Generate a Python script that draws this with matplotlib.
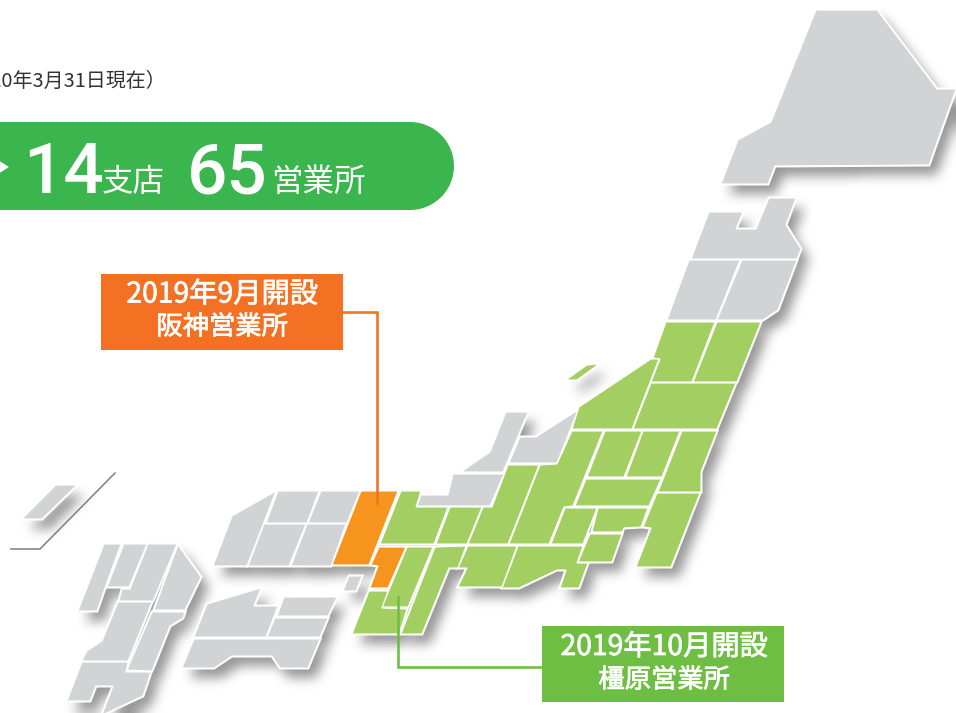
import numpy as np
import matplotlib
matplotlib.use("Agg")
import matplotlib.pyplot as plt
from matplotlib.patches import Polygon, Rectangle, Circle
from matplotlib.path import Path
import matplotlib.patheffects as pe

CJK = 'Noto Sans CJK JP'
NUM = 'Roboto'

# Map regions (pixel space of the reference)
gray_regions = [
    [(816,10),(877,10),(937,89),(956,89),(929,165),(775,166),(768,184),(721,184),(738,140),(771,122)],
    [(709,212),(743,212),(736,229),(756,229),(769,198),(796,198),(786,225),(801,249),(797,259),(691,259)],
    [(689,260),(740,260),(716,320),(667,320)],
    [(742,260),(797,260),(778,310),(763,320),(717,320)],
    [(506,412),(528,412),(503,472),(461,472),(490,452)],
    [(520,437),(536,437),(578,410),(557,463),(509,463)],
    [(453,474),(504,474),(490,506),(417,506),(421,495),(448,495)],
    [(276,491),(232,516),(213,566),(247,566)],
    [(278,491),(319,491),(307,523),(266,523)],
    [(321,491),(360,491),(347,523),(308,523)],
    [(264,524),(306,524),(289,566),(248,566)],
    [(307,524),(346,524),(331,566),(291,566)],
    [(349,576),(362,576),(356,591),(343,591)],
    [(207,604),(261,588),(254,606),(278,606),(266,637),(194,637)],
    [(284,597),(337,597),(328,616),(277,616)],
    [(275,618),(328,618),(320,637),(267,637)],
    [(194,639),(320,639),(308,668),(280,668),(272,656),(232,656),(214,668),(182,668)],
    [(56,485),(77,485),(42,519),(22,519)],
    [(104,544),(121,544),(105,588),(97,611),(78,611)],
    [(124,544),(147,544),(129,587),(107,587)],
    [(148,544),(177,544),(153,601),(119,601),(122,589),(130,589)],
    [(178,545),(201,577),(185,610),(154,610)],
    [(118,602),(152,602),(128,661),(82,661),(87,651),(102,641)],
    [(152,612),(185,612),(183,618),(170,626),(152,671),(127,670)],
    [(82,662),(128,662),(126,672),(151,672),(143,696),(102,715),(113,686),(96,686),(90,701),(67,701)],
]
green_regions = [
    [(666,322),(715,322),(692,382),(651,382),(660,359),(653,358)],
    [(717,322),(761,322),(737,382),(693,382)],
    [(651,359),(659,359),(632,429),(572,429),(579,407)],
    [(651,383),(736,383),(717,429),(633,429)],
    [(587,365),(599,364),(577,380),(566,380)],
    [(508,465),(539,465),(508,544),(468,544),(483,507),(492,507)],
    [(540,465),(557,464),(572,431),(603,431),(573,506),(564,507),(549,544),(509,544)],
    [(605,431),(642,431),(624,477),(587,477)],
    [(643,431),(680,431),(662,477),(626,477)],
    [(682,431),(717,431),(701,472),(701,492),(658,492)],
    [(586,479),(661,479),(649,506),(575,506)],
    [(657,493),(700,493),(671,567),(636,567),(651,528),(643,527)],
    [(598,508),(648,508),(641,527),(624,528),(622,532),(592,532)],
    [(565,508),(597,508),(583,544),(551,544)],
    [(590,534),(622,534),(612,562),(578,562)],
    [(518,546),(583,546),(577,563),(588,563),(579,588),(560,588),(566,570),(557,570),(519,588),(502,588)],
    [(468,546),(517,546),(502,587),(458,587),(467,568),(458,568)],
    [(401,491),(421,491),(416,507),(448,507),(434,544),(380,544)],
    [(450,507),(482,507),(467,544),(436,544)],
    [(407,547),(433,547),(408,607),(382,607)],
    [(435,547),(466,546),(458,568),(449,568),(422,634),(401,634)],
    [(369,591),(388,591),(382,608),(407,609),(399,634),(352,634)],
]
orange_regions = [
    [(361,491),(398,491),(369,565),(332,565)],
    [(379,547),(406,547),(388,588),(370,588),(378,566),(371,565)],
]
okinawa_rule = [(115,473),(40,549),(11,549)]
hanshin_leader = [(343,312),(377,312),(377,503)]
kashihara_leader = [(398,597),(398,667),(542,667)]

as_of_text = "（2020年3月31日現在）"
branch_count, branch_label = "14", "支店"
office_count, office_label = "65", "営業所"
orange_lines = ["2019年9月開設", "阪神営業所"]
green_lines = ["2019年10月開設", "橿原営業所"]

GRAY, GREEN, ORANGE = '#D1D3D4', '#A3CF62', '#F7941E'
PILL, TAG_ORANGE, TAG_GREEN = '#3BB54E', '#F47023', '#6FBE44'
W, H = 956, 713

fig = plt.figure(figsize=(9.56, 7.13), dpi=100)
ax = fig.add_axes([0, 0, 1, 1])

def px(v):
    return v * 0.72

def blur(a, radius):
    k = 2 * radius + 1
    for axis in (0, 1):
        c = np.cumsum(np.pad(a, [(radius + 1, radius) if i == axis else (0, 0) for i in (0, 1)], mode='edge'), axis=axis)
        a = (np.take(c, range(k, c.shape[axis]), axis=axis) - np.take(c, range(0, c.shape[axis] - k), axis=axis)) / k
    return a

# soft drop shadow of the whole map, falling to the lower right
all_regions = gray_regions + green_regions + orange_regions
gx, gy = np.meshgrid(np.arange(W) + 0.5, np.arange(H) + 0.5)
points = np.column_stack([gx.ravel(), gy.ravel()])
mask = np.zeros(gx.size, bool)
for r in all_regions:
    shifted = [(x + 8, y + 10) for x, y in r]
    mask |= Path(shifted + [shifted[0]]).contains_points(points)
mask = mask.reshape(H, W).astype(float)
for _ in range(3):
    mask = blur(mask, 5)
rgba = np.zeros((H, W, 4))
rgba[..., :3] = 0.30
rgba[..., 3] = np.clip(mask * 0.58, 0, 1)
ax.imshow(rgba, extent=(0, W, H, 0), aspect='auto', zorder=1, interpolation='bilinear')
ax.set_xlim(0, W); ax.set_ylim(H, 0); ax.axis('off')

for r in all_regions:
    ax.add_patch(Polygon(r, closed=True, facecolor='white', edgecolor='white', lw=px(3.0),
                         joinstyle='miter', zorder=2))
for regions, col in [(gray_regions, GRAY), (green_regions, GREEN), (orange_regions, ORANGE)]:
    for r in regions:
        ax.add_patch(Polygon(r, closed=True, facecolor=col, edgecolor='white', lw=px(1.1),
                             joinstyle='miter', zorder=3))

xs, ys = zip(*okinawa_rule)
ax.plot(xs, ys, color='#808285', lw=px(1.6), zorder=4, solid_joinstyle='miter')
xs, ys = zip(*hanshin_leader)
ax.plot(xs, ys, color=TAG_ORANGE, lw=px(2.6), zorder=4, solid_joinstyle='miter')
xs, ys = zip(*kashihara_leader)
ax.plot(xs, ys, color=TAG_GREEN, lw=px(2.6), zorder=4, solid_joinstyle='miter')

ax.add_patch(Rectangle((-10, 122), 420, 88, facecolor=PILL, edgecolor='none', zorder=5))
ax.add_patch(Circle((410, 166), 44, facecolor=PILL, edgecolor='none', zorder=5))
ax.add_patch(Polygon([(-2, 160), (9, 167), (-2, 174)], closed=True, facecolor='white', edgecolor='none', zorder=6))

ax.add_patch(Rectangle((101, 274), 242, 76, facecolor=TAG_ORANGE, edgecolor='none', zorder=5))
ax.add_patch(Rectangle((542, 626), 242, 76, facecolor=TAG_GREEN, edgecolor='none', zorder=5))

ax.text(166, 81, as_of_text, ha='right', va='center', fontsize=px(20), color='#333333', family=CJK, zorder=7)
ax.text(23, 193, branch_count, ha='left', va='baseline', fontsize=px(71), color='white', family=NUM, weight='medium', zorder=7)
ax.text(102, 182, branch_label, ha='left', va='center', fontsize=px(31.5), color='white', family=CJK, zorder=7)
ax.text(187, 193, office_count, ha='left', va='baseline', fontsize=px(71), color='white', family=NUM, weight='medium', zorder=7)
ax.text(271, 182, office_label, ha='left', va='center', fontsize=px(31.5), color='white', family=CJK, zorder=7)

thicken = [pe.withStroke(linewidth=0.5, foreground='white')]
for y, s, size in [(294.5, orange_lines[0], 28.3), (327, orange_lines[1], 26.3)]:
    ax.text(222, y, s, ha='center', va='center', fontsize=px(size), color='white', family=CJK, zorder=7, path_effects=thicken)
for y, s, size in [(647, green_lines[0], 28.3), (680, green_lines[1], 26.3)]:
    ax.text(664, y, s, ha='center', va='center', fontsize=px(size), color='white', family=CJK, zorder=7, path_effects=thicken)

fig.savefig('out.png', dpi=100, facecolor='white')
